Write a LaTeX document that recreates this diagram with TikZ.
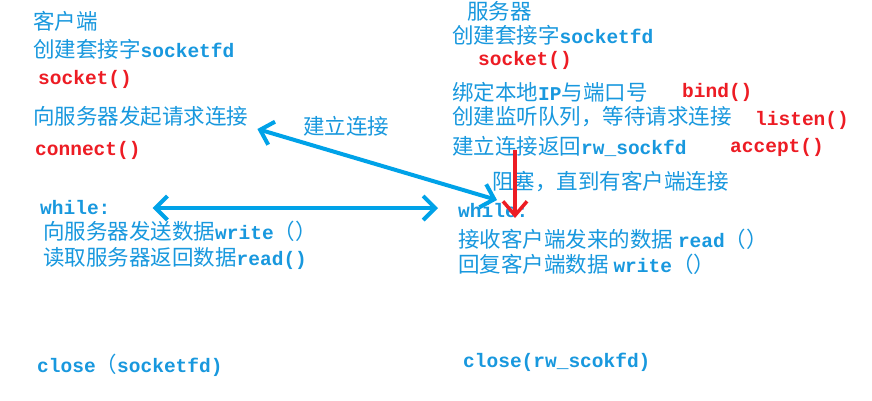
\documentclass[tikz,border=0pt]{standalone}
\usepackage{fontspec}
\setmainfont{Noto Sans CJK SC}
\setmonofont{Liberation Mono}
\usetikzlibrary{arrows.meta}
\definecolor{txtblue}{RGB}{24,152,222}
\definecolor{linkblue}{RGB}{0,162,232}
\definecolor{fnred}{RGB}{237,28,36}
\newcommand{\mono}[1]{{\fontsize{19.5}{21}\selectfont\ttfamily\bfseries #1}}
\begin{document}
\begin{tikzpicture}[
  x=1pt, y=-1pt,
  every node/.style={anchor=west, inner sep=0pt, font=\fontsize{21.5}{22}\selectfont},
  txt/.style={text=txtblue},
  fn/.style={text=fnred, font=\fontsize{19.5}{21}\selectfont\ttfamily\bfseries},
  conn/.style={draw=linkblue, line width=4pt,
    {Straight Barb[length=12pt,width=24pt]}-{Straight Barb[length=12pt,width=24pt]}},
  waitarr/.style={draw=fnred, line width=3.5pt, -{Straight Barb[length=14pt,width=24pt]}}
]
\fill[white] (0,0) rectangle (872,400);
\useasboundingbox (0,0) rectangle (872,400);

% client
\node[txt] (cli)    at (33,21)  {客户端};
\node[txt] (csock)  at (33,49)  {创建套接字\mono{socketfd}};
\node[fn]  (csockf) at (38,79)  {socket()};
\node[txt] (creq)   at (33,116) {向服务器发起请求连接};
\node[fn]  (cconn)  at (35,150) {connect()};
\node[txt] (cwhile) at (40,208) {\mono{while:}};
\node[txt] (cwrite) at (43,231) {向服务器发送数据\mono{write}（）};
\node[txt] (cread)  at (43,258) {读取服务器返回数据\mono{read()}};
\node[txt] (cclose) at (37,365) {\mono{close}（\mono{socketfd)}};

% server
\node[txt] (srv)    at (467,11)  {服务器};
\node[txt] (ssock)  at (452,35)  {创建套接字\mono{socketfd}};
\node[fn]  (ssockf) at (478,60)  {socket()};
\node[txt] (sbind)  at (452,92)  {绑定本地\mono{IP}与端口号};
\node[fn]  (sbindf) at (682,92)  {bind()};
\node[txt] (slist)  at (452,117) {创建监听队列，等待请求连接};
\node[fn]  (slistf) at (755,120) {listen()};
\node[txt] (sacc)   at (452,146) {建立连接返回\mono{rw\_sockfd}};
\node[fn]  (saccf)  at (730,147) {accept()};
\node[txt] (sblock) at (492,182) {阻塞，直到有客户端连接};
\node[txt] (swhile) at (458,211) {\mono{while:}};
\node[txt] (sread)  at (458,239) {接收客户端发来的数据 \mono{read}（）};
\node[txt] (swrite) at (458,264) {回复客户端数据 \mono{write}（）};
\node[txt] (sclose) at (463,362) {\mono{close(rw\_scokfd)}};

\node[txt] (link) at (303,126) {建立连接};

% connectors
\draw[conn] ([shift={(9,13)}]creq.east) -- ([shift={(39,-11)}]swhile.west);
\draw[conn] ([shift={(42,0)}]cwhile.east) -- ([shift={(-20,-3)}]swhile.west);
\draw[waitarr] ([shift={(63,4)}]sacc.west) -- ([shift={(57,7)}]swhile.west);
\end{tikzpicture}
\end{document}
